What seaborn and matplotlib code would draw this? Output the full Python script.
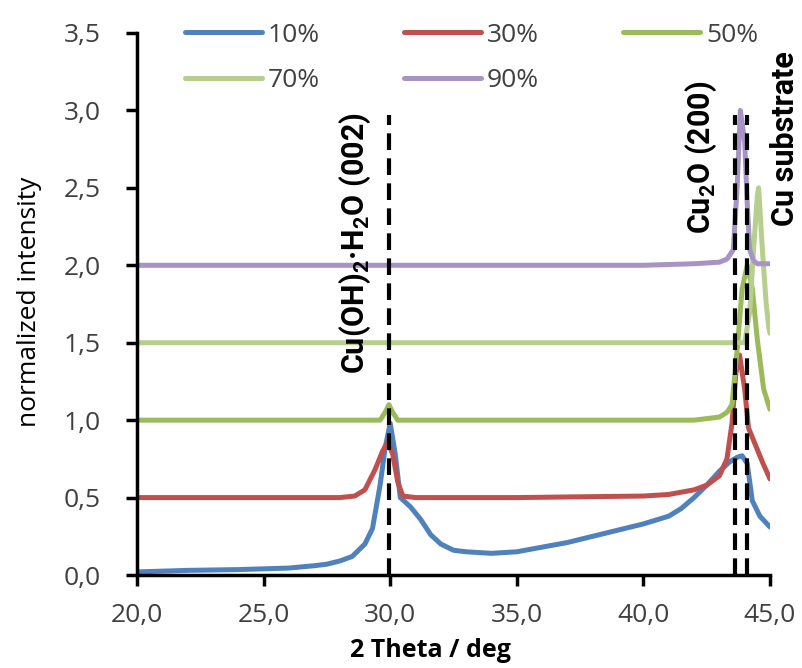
import seaborn as sns
import matplotlib
matplotlib.use("Agg")
import matplotlib.pyplot as plt
from matplotlib import font_manager
from matplotlib.ticker import FuncFormatter, MultipleLocator
import pandas

# data (2 theta in deg, normalized intensity with offsets)
x10 = [20, 22, 24, 25, 26, 27, 27.5, 28, 28.5, 29, 29.3, 29.6, 29.8, 30.0, 30.2, 30.4, 30.8, 31.2,
       31.6, 32, 32.5, 33, 34, 35, 36, 37, 38, 39, 40, 41, 41.5, 42, 42.5, 43, 43.4, 43.7, 43.9,
       44.1, 44.3, 44.6, 45]
y10 = [0.02, 0.03, 0.035, 0.04, 0.045, 0.06, 0.07, 0.09, 0.12, 0.2, 0.3, 0.58, 0.82, 0.98, 0.78,
       0.5, 0.44, 0.36, 0.26, 0.2, 0.16, 0.15, 0.14, 0.15, 0.18, 0.21, 0.25, 0.29, 0.33, 0.38, 0.43,
       0.5, 0.58, 0.67, 0.73, 0.76, 0.77, 0.72, 0.48, 0.38, 0.31]

x30 = [20, 28, 28.6, 29, 29.4, 29.7, 29.9, 30.1, 30.3, 30.5, 31, 35, 40, 41, 42, 42.5, 43, 43.3,
       43.5, 43.65, 43.8, 44.0, 44.15, 44.35, 44.7, 45]
y30 = [0.5, 0.5, 0.51, 0.55, 0.68, 0.8, 0.86, 0.78, 0.6, 0.51, 0.5, 0.5, 0.51, 0.52, 0.55, 0.58,
       0.64, 0.75, 0.98, 1.3, 1.42, 1.2, 0.95, 0.87, 0.73, 0.62]

x50 = [20, 29.6, 29.8, 29.95, 30.1, 30.3, 40, 42, 43, 43.3, 43.5, 43.7, 43.9, 44.1, 44.3, 44.5,
       44.75, 45]
y50 = [1.0, 1.0, 1.05, 1.1, 1.05, 1.0, 1.0, 1.0, 1.02, 1.05, 1.1, 1.45, 1.85, 2.0, 1.85, 1.52,
       1.2, 1.07]

x70 = [20, 44.0, 44.2, 44.35, 44.5, 44.55, 44.7, 44.85, 44.95, 45]
y70 = [1.5, 1.5, 1.7, 2.1, 2.45, 2.5, 2.1, 1.75, 1.6, 1.56]

x90 = [20, 40, 42, 43, 43.3, 43.55, 43.7, 43.83, 44.0, 44.1, 44.2, 44.35, 44.5, 45]
y90 = [2.0, 2.0, 2.01, 2.02, 2.04, 2.1, 2.5, 3.0, 2.8, 2.4, 2.1, 2.03, 2.01, 2.01]

series = ["10%", "30%", "50%", "70%", "90%"]
colors = ["#4F81BD", "#C0504D", "#9BBB59", "#B6CF8E", "#A794C4"]

peaks = [29.95, 43.6, 44.1]

frames = []
for name, xs, ys in zip(series, [x10, x30, x50, x70, x90], [y10, y30, y50, y70, y90]):
    frames.append(pandas.DataFrame({"theta": xs, "intensity": ys, "sample": name}))
data = pandas.concat(frames, ignore_index=True)

sns.set_style("ticks")
plt.rcParams["font.family"] = ["Open Sans", "DejaVu Sans"]

names = {f.name for f in font_manager.fontManager.ttflist}
narrow = "Liberation Sans Narrow" if "Liberation Sans Narrow" in names else "Roboto"
ann_size = 25 if narrow == "Liberation Sans Narrow" else 22
plt.rcParams["mathtext.fontset"] = "custom"
plt.rcParams["mathtext.rm"] = narrow + ":bold"
plt.rcParams["mathtext.it"] = narrow + ":bold"
plt.rcParams["mathtext.bf"] = narrow + ":bold"

fig = plt.figure(figsize=(8.03, 6.68), dpi=100)
ax = fig.add_axes([0.1706, 0.1392, 0.7883, 0.8114])

sns.lineplot(data=data, x="theta", y="intensity", hue="sample", palette=colors,
             estimator=None, linewidth=3.6, ax=ax)
for line in ax.get_lines():
    line.set_solid_joinstyle("round")
    line.set_solid_capstyle("round")

ax.vlines(peaks, 0, 2.97, colors="black", linewidth=3, linestyles=(0, (4, 2)), zorder=5)

ax.set_xlim(20, 45)
ax.set_ylim(0, 3.5)
ax.xaxis.set_major_locator(MultipleLocator(5))
ax.yaxis.set_major_locator(MultipleLocator(0.5))
comma = FuncFormatter(lambda v, p: f"{v:.1f}".replace(".", ","))
ax.xaxis.set_major_formatter(comma)
ax.yaxis.set_major_formatter(comma)
ax.tick_params(axis="both", direction="out", length=8, width=2.5, color="black",
               labelsize=19, labelcolor="#404040")
ax.tick_params(axis="x", pad=12)
ax.tick_params(axis="y", pad=18)
for side in ["top", "right"]:
    ax.spines[side].set_visible(False)
for side in ["left", "bottom"]:
    ax.spines[side].set_linewidth(2.5)
    ax.spines[side].set_color("black")

ax.set_xlabel("2 Theta / deg", fontsize=18, fontweight="bold", color="black")
ax.set_ylabel("normalized intensity", fontsize=19, color="black")
ax.xaxis.set_label_coords(0.464, -0.117)
ax.yaxis.set_label_coords(-0.15, 0.504)
ax.xaxis.label.set_va("top")

ann = dict(rotation=90, ha="center", va="center", fontsize=ann_size, fontweight="bold",
           family=[narrow, "DejaVu Sans"], color="black")
ax.text(28.61, 2.14, "Cu(OH)$_2$·H$_2$O (002)", **ann)
ax.text(42.31, 2.70, "Cu$_2$O (200)", **ann)
ax.text(45.6, 2.82, "Cu substrate", **ann)

handles, labels = ax.get_legend_handles_labels()
order = [0, 3, 1, 4, 2]
ax.legend([handles[i] for i in order], [labels[i] for i in order], ncol=3,
          loc="upper left", bbox_to_anchor=(0.2304, 0.966), bbox_transform=fig.transFigure,
          frameon=False, fontsize=19, labelcolor="#404040", handlelength=2.9,
          handletextpad=0.23, columnspacing=3.2, labelspacing=0.76, borderpad=0,
          borderaxespad=0)

plt.savefig("out.png", dpi=100)
